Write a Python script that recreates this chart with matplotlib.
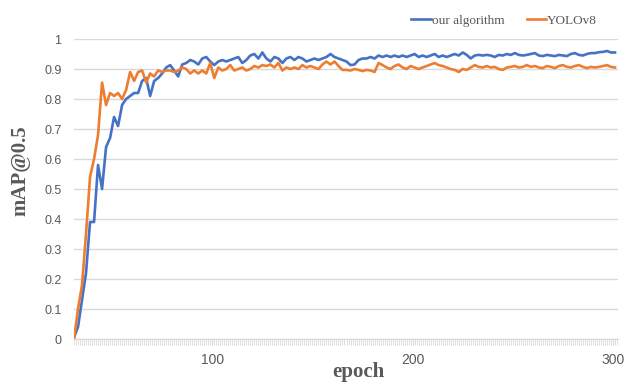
import matplotlib
matplotlib.use('Agg')
import matplotlib.pyplot as plt
from matplotlib.ticker import MultipleLocator

# epochs (every 2nd epoch sampled off the curves)
epochs = list(range(31, 302, 2))

ours = [0.005, 0.04, 0.13, 0.22, 0.39, 0.39, 0.58, 0.50, 0.64, 0.67,
        0.74, 0.71, 0.78, 0.80, 0.81, 0.82, 0.82, 0.86, 0.87, 0.81,
        0.86, 0.87, 0.885, 0.905, 0.913, 0.895, 0.875, 0.915, 0.92, 0.93,
        0.925, 0.915, 0.935, 0.94, 0.925, 0.913, 0.925, 0.93, 0.925, 0.93,
        0.935, 0.94, 0.92, 0.93, 0.945, 0.95, 0.935, 0.955, 0.935, 0.925,
        0.94, 0.935, 0.92, 0.935, 0.94, 0.93, 0.94, 0.935, 0.925, 0.93,
        0.935, 0.93, 0.935, 0.94, 0.95, 0.94, 0.935, 0.93, 0.925, 0.913,
        0.915, 0.93, 0.935, 0.935, 0.94, 0.935, 0.945, 0.94, 0.945, 0.94,
        0.945, 0.94, 0.945, 0.94, 0.945, 0.95, 0.94, 0.945, 0.94, 0.945,
        0.95, 0.94, 0.945, 0.94, 0.945, 0.95, 0.945, 0.955, 0.947, 0.935,
        0.945, 0.947, 0.945, 0.947, 0.945, 0.94, 0.947, 0.945, 0.95, 0.947,
        0.953, 0.947, 0.945, 0.947, 0.95, 0.953, 0.945, 0.943, 0.947, 0.945,
        0.943, 0.947, 0.945, 0.943, 0.95, 0.953, 0.947, 0.945, 0.95, 0.953,
        0.953, 0.956, 0.957, 0.96, 0.955, 0.955]

yolov8 = [0.0, 0.10, 0.18, 0.35, 0.54, 0.60, 0.68, 0.855, 0.78, 0.82,
          0.81, 0.82, 0.80, 0.83, 0.89, 0.86, 0.89, 0.895, 0.855, 0.885,
          0.875, 0.895, 0.89, 0.895, 0.895, 0.89, 0.895, 0.905, 0.90, 0.885,
          0.895, 0.885, 0.895, 0.885, 0.92, 0.87, 0.905, 0.895, 0.90, 0.913,
          0.895, 0.90, 0.905, 0.895, 0.90, 0.91, 0.905, 0.913, 0.91, 0.915,
          0.905, 0.92, 0.895, 0.905, 0.90, 0.905, 0.90, 0.913, 0.905, 0.91,
          0.905, 0.90, 0.915, 0.925, 0.915, 0.925, 0.91, 0.897, 0.897, 0.895,
          0.90, 0.897, 0.893, 0.897, 0.895, 0.89, 0.92, 0.913, 0.905, 0.90,
          0.91, 0.915, 0.905, 0.90, 0.91, 0.905, 0.90, 0.905, 0.91, 0.915,
          0.92, 0.913, 0.91, 0.905, 0.90, 0.897, 0.89, 0.90, 0.897, 0.905,
          0.913, 0.907, 0.905, 0.91, 0.905, 0.907, 0.90, 0.897, 0.905, 0.907,
          0.91, 0.905, 0.907, 0.913, 0.907, 0.91, 0.905, 0.903, 0.91, 0.907,
          0.903, 0.91, 0.913, 0.907, 0.905, 0.91, 0.913, 0.907, 0.903, 0.907,
          0.905, 0.907, 0.91, 0.913, 0.907, 0.905]

xticks = [100, 200, 300]
yticks = [0, 0.1, 0.2, 0.3, 0.4, 0.5, 0.6, 0.7, 0.8, 0.9, 1]
ytick_labels = ['0', '0.1', '0.2', '0.3', '0.4', '0.5', '0.6', '0.7', '0.8', '0.9', '1']

grey = '#595959'
serif = 'Liberation Serif'
sans = 'Liberation Sans'

fig = plt.figure(figsize=(6.25, 3.84), dpi=100)
ax = fig.add_axes([74/625, 45/384, 544/625, 300/384])

ax.plot(epochs, ours, color='#4472C4', lw=1.9, label='our algorithm', zorder=3)
ax.plot(epochs, yolov8, color='#ED7D31', lw=1.9, label='YOLOv8', zorder=3)

ax.set_xlim(31, 302.5)
ax.set_ylim(0, 1)
ax.set_xticks(xticks)
ax.set_yticks(yticks)
ax.set_yticklabels(ytick_labels)
ax.xaxis.set_minor_locator(MultipleLocator(1))
for lab in ax.get_xticklabels() + ax.get_yticklabels():
    lab.set_family(sans)

ax.grid(axis='y', color='#d9d9d9', lw=1)
ax.set_axisbelow(True)
for s in ['top', 'right', 'left']:
    ax.spines[s].set_visible(False)
ax.spines['bottom'].set_color('#d9d9d9')

ax.tick_params(axis='y', length=0, pad=9, labelsize=9, labelcolor=grey)
ax.tick_params(axis='x', which='major', length=4, color='#d9d9d9', pad=6,
               labelsize=10, labelcolor=grey)
ax.tick_params(axis='x', which='minor', length=4, color='#d9d9d9', width=0.6)

fig.text(0.573, 0.03, 'epoch', fontsize=15, fontweight='bold', family=serif,
         color=grey, ha='center', va='center')
fig.text(0.033, 0.555, 'mAP@0.5', fontsize=15, fontweight='bold', family=serif,
         color=grey, ha='center', va='center', rotation=90)

ax.legend(loc='center right', bbox_to_anchor=(597/625, 1.0 - 20.7/384),
          bbox_transform=fig.transFigure, ncol=2, frameon=False,
          prop={'family': serif, 'size': 9.5}, labelcolor=grey,
          borderpad=0, borderaxespad=0,
          handlelength=1.5, handletextpad=0.05, columnspacing=1.7)

plt.savefig('out.png', dpi=100)
